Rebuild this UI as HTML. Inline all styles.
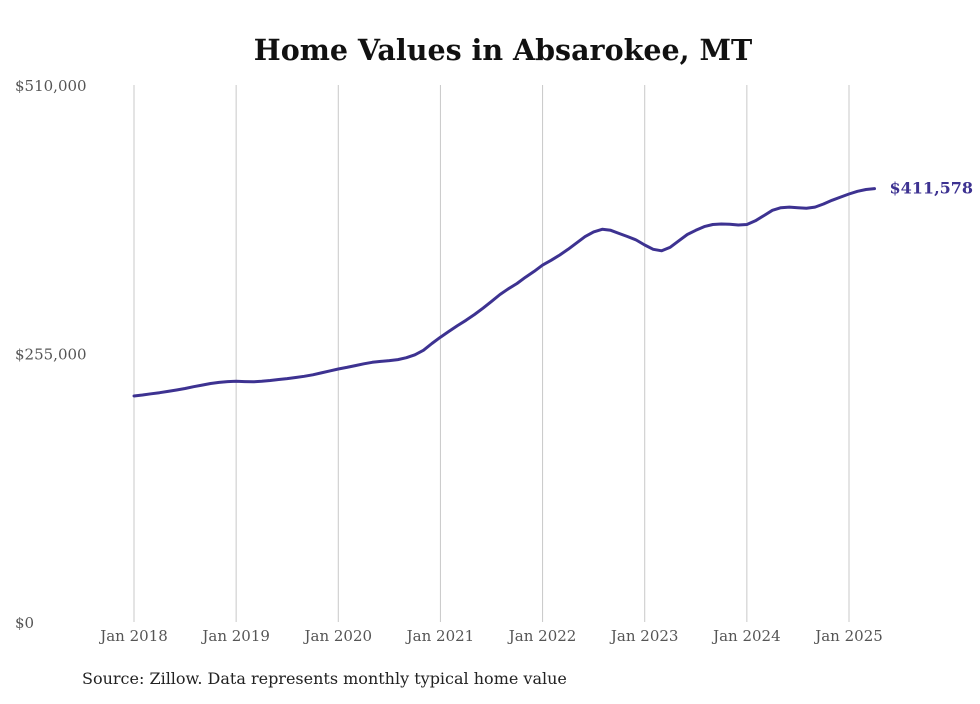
<!DOCTYPE html>
<html><head><meta charset="utf-8"><style>
body{margin:0;background:#fff;}
svg text{font-family:"DejaVu Serif","Liberation Serif",serif;}
</style></head><body>
<svg id="chart" width="980" height="699">
<text x="503" y="60" text-anchor="middle" font-size="28.5" font-weight="bold" fill="#111">Home Values in Absarokee, MT</text>
<g id="grid"></g><g id="yaxis"></g><g id="xaxis"></g><g id="series"></g>
<text x="82" y="684" font-size="16" fill="#222">Source: Zillow. Data represents monthly typical home value</text>
</svg>
<script>
const yTicks=[0,255000,510000];
const yTickLabels=["$0","$255,000","$510,000"];
const xYears=[2018,2019,2020,2021,2022,2023,2024,2025];
const xTickLabels=["Jan 2018","Jan 2019","Jan 2020","Jan 2021","Jan 2022","Jan 2023","Jan 2024","Jan 2025"];
const startYear=2018;
const values=[
214.6,215.6,216.7,217.8,219,220.3,221.8,223.5,225,226.5,227.6,228.3,
228.6,228.3,228.1,228.6,229.4,230.3,231.2,232.2,233.3,234.8,236.6,238.5,
240.3,241.8,243.5,245.2,246.6,247.5,248.3,249.2,251,253.8,258,264.5,
270.5,276,281.5,286.5,292,298,304.5,311,316.5,321.5,327.5,333,
339,343.5,348.5,354,360,366,370.5,373,372,369,366,362.8,
358,354,352.5,356,362,368,372,375.5,377.5,378,377.8,377,
377.5,381,386,391,393.5,394,393.5,393,394,397,400.5,403.5,
406.5,409,410.8,411.578].map(v=>v*1000);
const lastLabel="$411,578";
const NS="http://www.w3.org/2000/svg";
function yS(v){return 622-v/510000*537;}
function xS(monthIndex){return 134+monthIndex*(715/84);}
function mk(t,a,p,txt){const e=document.createElementNS(NS,t);for(const k in a)e.setAttribute(k,a[k]);if(txt!==undefined)e.textContent=txt;p.appendChild(e);return e;}
const grid=document.getElementById('grid'),ya=document.getElementById('yaxis'),xa=document.getElementById('xaxis'),se=document.getElementById('series');
yTicks.forEach((v,i)=>{
const t=mk('text',{x:15,y:yS(v)+6,'font-size':15,fill:'#555'},ya,yTickLabels[i]);


});
xYears.forEach((yr,i)=>{
const x=xS((yr-startYear)*12);
const l=mk('line',{x1:x,x2:x,y1:85,y2:622,stroke:'#c8c8c8','stroke-width':1},grid);


const t=mk('text',{x:x,y:641,'text-anchor':'middle','font-size':15,fill:'#555'},xa,xTickLabels[i]);


});
const d=values.map((v,i)=>(i?'L':'M')+xS(i).toFixed(1)+','+yS(v).toFixed(1)).join(' ');
const p=mk('path',{d:d,fill:'none',stroke:'#3d3291','stroke-width':3,'stroke-linejoin':'round','stroke-linecap':'round'},se);


const li=values.length-1;
const lt=mk('text',{x:xS(li)+15,y:yS(values[li])+5,'font-size':16,'font-weight':'bold',fill:'#3d3291'},se,lastLabel);


</script>
</body></html>
